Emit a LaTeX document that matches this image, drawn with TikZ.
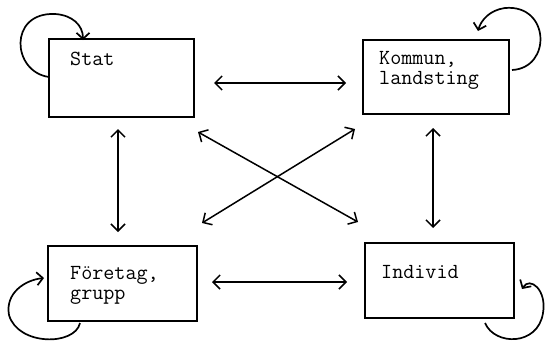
\documentclass[tikz,border=0pt]{standalone}
\usepackage{fontspec}
\usetikzlibrary{arrows.meta}
\begin{document}
\begin{tikzpicture}[x=1pt,y=-1pt,
  boxst/.style={draw, line width=1.5pt, inner sep=0pt},
  lbl/.style={font=\ttfamily\fontsize{21.5}{20}\selectfont, inner sep=0pt, anchor=north west, align=left},
  biarrow/.style={line width=1.5pt, {Straight Barb[length=7pt,width=14pt,line width=1.5pt]}-{Straight Barb[length=7pt,width=14pt,line width=1.5pt]}},
  looparrow/.style={line width=1.7pt, -{Straight Barb[length=6pt,width=13pt,line width=1.7pt]}}]
\useasboundingbox (0,0) rectangle (548,343);
% boxes
\node[boxst, minimum width=145pt, minimum height=78pt] (stat) at (121.5,78) {};
\node[boxst, minimum width=146pt, minimum height=74pt] (kommun) at (436,77) {};
\node[boxst, minimum width=149pt, minimum height=75pt] (foretag) at (122.5,283.5) {};
\node[boxst, minimum width=149pt, minimum height=75pt] (individ) at (439.5,280.5) {};
% labels
\node[lbl] (tstat) at (70,52) {Stat};
\node[lbl] (tkommun) at (379,51) {Kommun,\\landsting};
\node[lbl] (tforetag) at (70,266) {Företag,\\grupp};
\node[lbl] (tindivid) at (381,265) {Individ};
% arrow end points
\coordinate (h1a) at (214,83); \coordinate (h1b) at (346,83);
\coordinate (h2a) at (212,282); \coordinate (h2b) at (347,282);
\coordinate (v1a) at (118,129); \coordinate (v1b) at (118,232);
\coordinate (v2a) at (433,128); \coordinate (v2b) at (433,228);
\coordinate (d1a) at (198,132); \coordinate (d1b) at (358,222);
\coordinate (d2a) at (202,223); \coordinate (d2b) at (355,129);
\draw[biarrow] (h1a) -- (h1b);
\draw[biarrow] (h2a) -- (h2b);
\draw[biarrow] (v1a) -- (v1b);
\draw[biarrow] (v2a) -- (v2b);
\draw[biarrow] (d1a) -- (d1b);
\draw[biarrow] (d2a) -- (d2b);
% self loops
\coordinate (ls1) at (49,77); \coordinate (le1) at (83,40);
\draw[looparrow] (ls1) .. controls (12,72) and (8,12) .. (55,14) .. controls (72,15) and (83,25) .. (le1);
\coordinate (ls2) at (512,70); \coordinate (le2) at (478,31);
\draw[looparrow] (ls2) .. controls (552,68) and (550,4) .. (505,8) .. controls (490,10) and (481,20) .. (le2);
\coordinate (ls3) at (80,323); \coordinate (le3) at (44,278);
\draw[looparrow] (ls3) .. controls (75,346) and (18,346) .. (9,315) .. controls (5,293) and (25,280) .. (le3);
\coordinate (ls4) at (485,323); \coordinate (le4) at (522,289);
\draw[looparrow] (ls4) .. controls (495,346) and (538,346) .. (543,313) .. controls (547,290) and (530,276) .. (le4);
\end{tikzpicture}
\end{document}
